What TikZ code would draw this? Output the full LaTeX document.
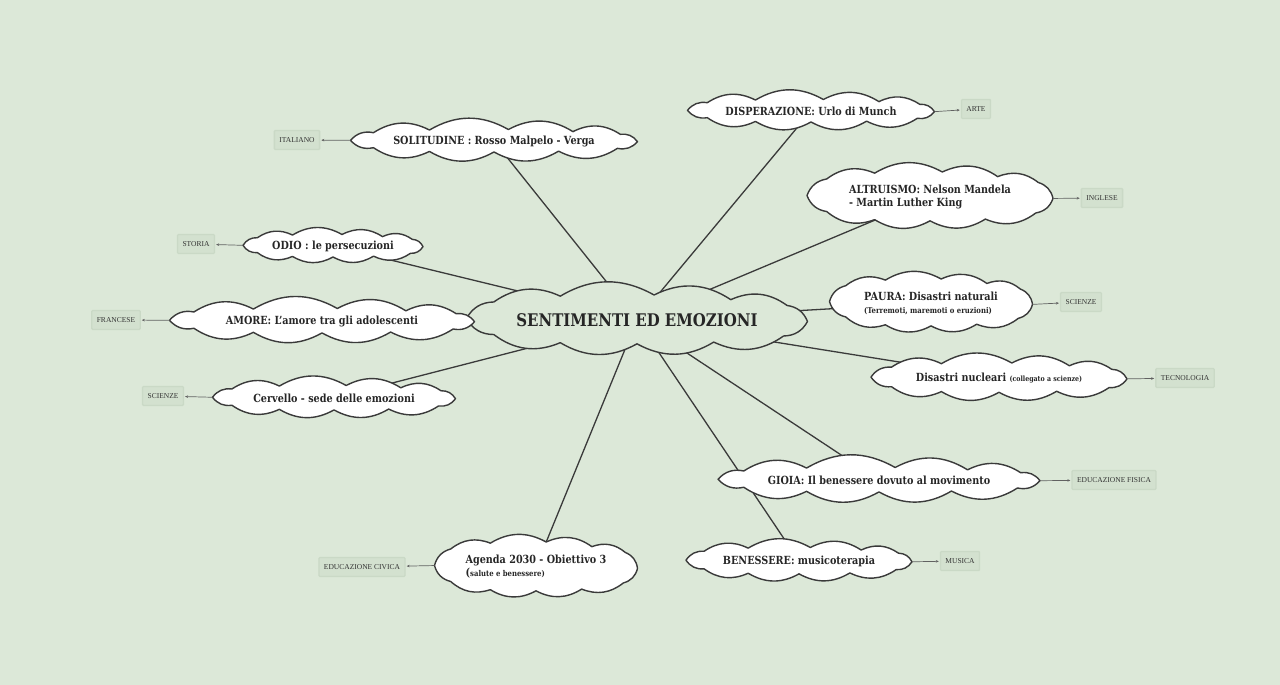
\documentclass[tikz,border=0pt]{standalone}
\usepackage{fontspec}
\setmainfont{DejaVu Serif}[FakeStretch=0.86]
\newfontfamily\subjfont{Liberation Serif}
\usepackage{tikz}
\usetikzlibrary{
	arrows.meta
}
\definecolor{bg}{HTML}{DCE8D8}
\definecolor{boxfill}{HTML}{D3E1CF}
\definecolor{boxline}{HTML}{CAD9C6}
\definecolor{inkline}{HTML}{3A3A3A}

\pgfdeclarelayer{back}
\pgfdeclarelayer{puffs}
\pgfsetlayers{back,puffs,main}

% cloud round a node: [fill] {node} {width} {height}
\newcommand{\ideacloud}[4][white]{%
	\begin{pgfonlayer}{puffs}
	\begin{scope}[shift={(#2)}]
		\pgfmathsetmacro\ca{#3/2}
		\pgfmathsetmacro\cb{(#4/2-7.5)/0.86}
		\path[idea,fill=#1]
			({-\ca},{0.05*\cb})
			to[bend left=30] ({-0.84*\ca},{0.62*\cb})
			to[bend left=30] ({-0.45*\ca},{0.82*\cb})
			to[bend left=30] ({0.10*\ca},{0.86*\cb})
			to[bend left=30] ({0.55*\ca},{0.70*\cb})
			to[bend left=30] ({0.88*\ca},{0.50*\cb})
			to[bend left=30] ({\ca},{-0.05*\cb})
			to[bend left=30] ({0.86*\ca},{-0.55*\cb})
			to[bend left=30] ({0.45*\ca},{-0.76*\cb})
			to[bend left=30] ({0.00*\ca},{-0.82*\cb})
			to[bend left=30] ({-0.45*\ca},{-0.78*\cb})
			to[bend left=30] ({-0.84*\ca},{-0.50*\cb})
			to[bend left=30] ({-\ca},{0.05*\cb})
			-- cycle;
		\coordinate (#2-w) at ({-\ca},{0.05*\cb});
		\coordinate (#2-e) at ({\ca},{-0.05*\cb});
	\end{scope}
	\end{pgfonlayer}}

\begin{document}
\begin{tikzpicture}[x=1pt,y=1pt,
	idea/.style={draw=inkline,line width=1.4pt,line join=round},
	ideatext/.style={font=\bfseries\fontsize{11.2}{13}\selectfont,align=left,text=black!85},
	subject/.style={draw=boxline,fill=boxfill,line width=1.3pt,rounded corners=1pt,
		inner xsep=5pt,minimum height=19pt,font=\subjfont\fontsize{7.5}{9}\selectfont,text=black!80},
	spoke/.style={draw=inkline,line width=1.3pt},
	link/.style={draw=inkline!80,line width=0.7pt,-{Stealth[length=3pt,width=2.5pt]},shorten >=1pt}
]
	\useasboundingbox (0,0) rectangle (1280,685);

	% central idea
	\node [ideatext,font=\bfseries\fontsize{17.4}{20}\selectfont] (c) at (637,365) {SENTIMENTI ED EMOZIONI};
	\ideacloud[bg]{c}{341}{65}

	% ideas
	\node [ideatext] (dis)    at (811,574) {DISPERAZIONE: Urlo di Munch};
	\node [ideatext] (sol)    at (494,544) {SOLITUDINE : Rosso Malpelo - Verga};
	\node [ideatext] (alt)    at (930,488) {ALTRUISMO: Nelson Mandela\\- Martin Luther King};
	\node [ideatext] (odio)   at (333,439) {ODIO : le persecuzioni};
	\node [ideatext] (paura)  at (931,382) {PAURA: Disastri naturali\\{\fontsize{8}{10}\selectfont(Terremoti, maremoti o eruzioni)}};
	\node [ideatext] (amore)  at (322,364) {AMORE: L'amore tra gli adolescenti};
	\node [ideatext] (nuc)    at (999,307) {Disastri nucleari {\fontsize{7.3}{9}\selectfont(collegato a scienze)}};
	\node [ideatext] (cerv)   at (334,287) {Cervello - sede delle emozioni};
	\node [ideatext] (gioia)  at (879,205) {GIOIA: Il benessere dovuto al movimento};
	\node [ideatext] (ben)    at (799,124) {BENESSERE: musicoterapia};
	\node [ideatext] (agenda) at (536,118) {Agenda 2030 - Obiettivo 3\\({\fontsize{8}{10}\selectfont salute e benessere)}};

	\ideacloud{dis}{247}{38}
	\ideacloud{sol}{287}{38}
	\ideacloud{alt}{246}{65}
	\ideacloud{odio}{180}{38}
	\ideacloud{paura}{203}{63}
	\ideacloud{amore}{305}{40}
	\ideacloud{nuc}{256}{45}
	\ideacloud{cerv}{243}{40}
	\ideacloud{gioia}{322}{40}
	\ideacloud{ben}{226}{42}
	\ideacloud{agenda}{203}{65}

	% subjects
	\node [subject] (arte)       at (976,576)  {ARTE};
	\node [subject] (italiano)   at (297,545)  {ITALIANO};
	\node [subject] (inglese)    at (1102,487) {INGLESE};
	\node [subject] (storia)     at (196,441)  {STORIA};
	\node [subject] (scienzeA)   at (1081,383) {SCIENZE};
	\node [subject] (francese)   at (116,365)  {FRANCESE};
	\node [subject] (tecnologia) at (1185,307) {TECNOLOGIA};
	\node [subject] (scienzeB)   at (163,289)  {SCIENZE};
	\node [subject] (edfisica)   at (1114,205) {EDUCAZIONE FISICA};
	\node [subject] (musica)     at (960,124)  {MUSICA};
	\node [subject] (edcivica)   at (362,118)  {EDUCAZIONE CIVICA};

	% background and spokes
	\begin{pgfonlayer}{back}
		\fill[bg] (0,0) rectangle (1280,685);
		\draw[spoke]
			(c.center) edge (dis.center)
			(c.center) edge (sol.center)
			(c.center) edge (alt.center)
			(c.center) edge (odio.center)
			(c.center) edge (paura.center)
			(c.center) edge (amore.center)
			(c.center) edge (nuc.center)
			(c.center) edge (cerv.center)
			(c.center) edge (gioia.center)
			(c.center) edge (ben.center)
			(c.center) edge (agenda.center)
		;
	\end{pgfonlayer}

	% subject links
	\draw[link] (dis-e)    -- (arte);
	\draw[link] (sol-w)    -- (italiano);
	\draw[link] (alt-e)    -- (inglese);
	\draw[link] (odio-w)   -- (storia);
	\draw[link] (paura-e)  -- (scienzeA);
	\draw[link] (amore-w)  -- (francese);
	\draw[link] (nuc-e)    -- (tecnologia);
	\draw[link] (cerv-w)   -- (scienzeB);
	\draw[link] (gioia-e)  -- (edfisica);
	\draw[link] (ben-e)    -- (musica);
	\draw[link] (agenda-w) -- (edcivica);
\end{tikzpicture}
\end{document}
